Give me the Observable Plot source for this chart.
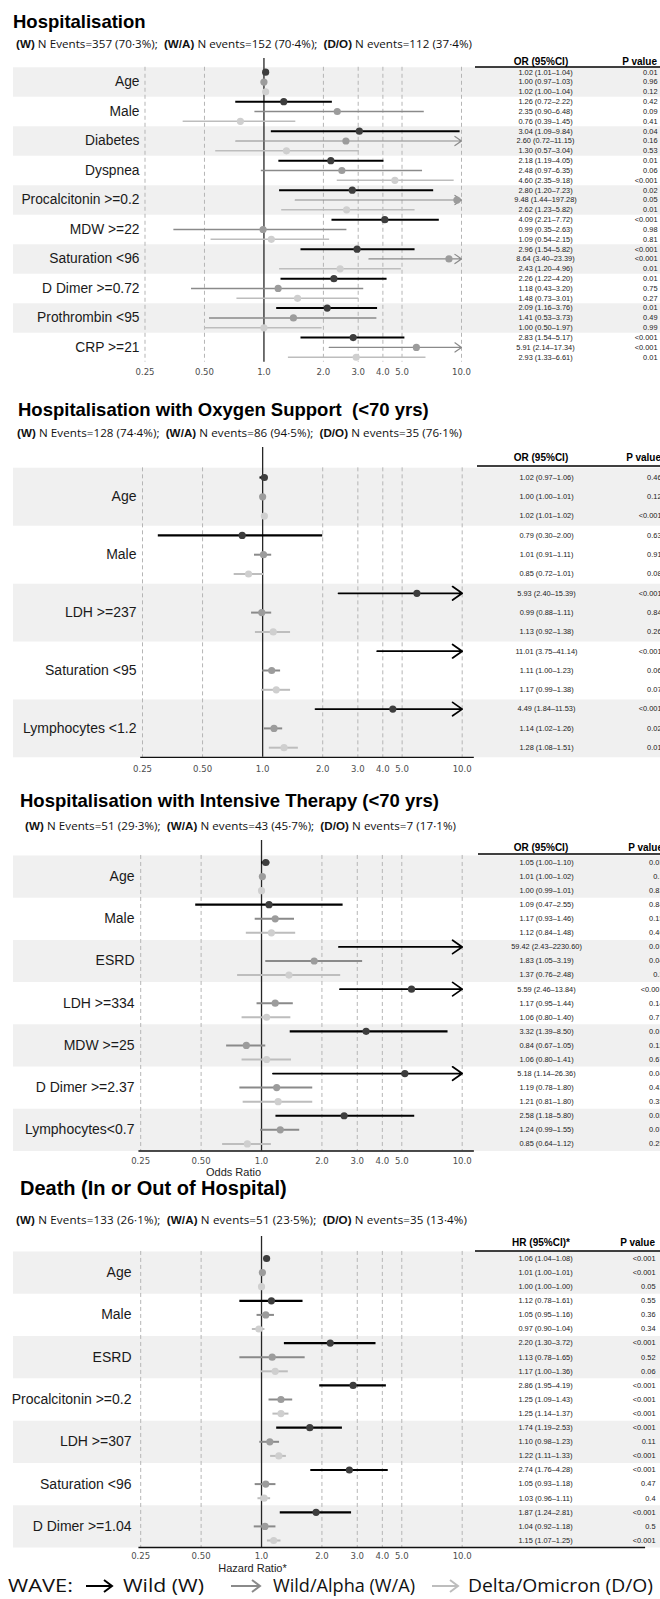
<!DOCTYPE html>
<html><head><meta charset="utf-8">
<script src="https://cdn.jsdelivr.net/npm/d3@7"></script>
<script src="https://cdn.jsdelivr.net/npm/@observablehq/plot@0.6"></script>
<style>
body{margin:0;background:#fff;}
#wrap{position:relative;width:660px;height:1599px;overflow:hidden;background:#fff;}
#wrap > svg{position:absolute;left:0;}
</style></head><body><div id="wrap"></div>
<script>
// ---------------- DATA ----------------
const WAVES = ["W","W/A","D/O"];
const xTicks = [0.25,0.5,1,2,3,4,5,10];
const xTickLabels = ["0.25","0.50","1.0","2.0","3.0","4.0","5.0","10.0"];

// Panel 1: Hospitalisation
const p1Labels = ["Age","Male","Diabetes","Dyspnea","Procalcitonin >=0.2","MDW >=22","Saturation <96","D Dimer >=0.72","Prothrombin <95","CRP >=21"];
const p1OrW  = [1.02,1.26,3.04,2.18,2.80,4.09,2.96,2.26,2.09,2.83];
const p1LoW  = [1.01,0.72,1.09,1.19,1.20,2.21,1.54,1.22,1.16,1.54];
const p1HiW  = [1.04,2.22,9.84,4.05,7.23,7.72,5.82,4.20,3.76,5.17];
const p1PW   = ["0.01","0.42","0.04","0.01","0.02","<0.001","<0.001","0.01","0.01","<0.001"];
const p1OrWA = [1.00,2.35,2.60,2.48,9.48,0.99,8.64,1.18,1.41,5.91];
const p1LoWA = [0.97,0.90,0.72,0.97,1.44,0.35,3.40,0.43,0.53,2.14];
const p1HiWA = [1.03,6.48,11.15,6.35,197.28,2.63,23.39,3.20,3.73,17.34];
const p1PWA  = ["0.96","0.09","0.16","0.06","0.05","0.98","<0.001","0.75","0.49","<0.001"];
const p1OrDO = [1.02,0.76,1.30,4.60,2.62,1.09,2.43,1.48,1.00,2.93];
const p1LoDO = [1.00,0.39,0.57,2.35,1.23,0.54,1.20,0.73,0.50,1.33];
const p1HiDO = [1.04,1.45,3.04,9.18,5.82,2.15,4.96,3.01,1.97,6.61];
const p1PDO  = ["0.12","0.41","0.53","<0.001","0.01","0.81","0.01","0.27","0.99","0.01"];
const p1Events = [357,152,112];
const p1Pct = ["70·3","70·4","37·4"];

// Panel 2: Hospitalisation with Oxygen Support (<70 yrs)
const p2Labels = ["Age","Male","LDH >=237","Saturation <95","Lymphocytes <1.2"];
const p2OrW  = [1.02,0.79,5.93,11.01,4.49];
const p2LoW  = [0.97,0.30,2.40,3.75,1.84];
const p2HiW  = [1.06,2.00,15.39,41.14,11.53];
const p2PW   = ["0.46","0.63","<0.001","<0.001","<0.001"];
const p2OrWA = [1.00,1.01,0.99,1.11,1.14];
const p2LoWA = [1.00,0.91,0.88,1.00,1.02];
const p2HiWA = [1.01,1.11,1.11,1.23,1.26];
const p2PWA  = ["0.12","0.91","0.84","0.06","0.02"];
const p2OrDO = [1.02,0.85,1.13,1.17,1.28];
const p2LoDO = [1.01,0.72,0.92,0.99,1.08];
const p2HiDO = [1.02,1.01,1.38,1.38,1.51];
const p2PDO  = ["<0.001","0.08","0.26","0.07","0.01"];
const p2Events = [128,86,35];
const p2Pct = ["74·4","94·5","76·1"];

// Panel 3: Hospitalisation with Intensive Therapy (<70 yrs)
const p3Labels = ["Age","Male","ESRD","LDH >=334","MDW >=25","D Dimer >=2.37","Lymphocytes<0.7"];
const p3OrW  = [1.05,1.09,59.42,5.59,3.32,5.18,2.58];
const p3LoW  = [1.00,0.47,2.43,2.46,1.39,1.14,1.18];
const p3HiW  = [1.10,2.55,2230.60,13.84,8.50,26.36,5.80];
const p3PW   = ["0.03","0.84","0.01","<0.001","0.01","0.04","0.02"];
const p3OrWA = [1.01,1.17,1.83,1.17,0.84,1.19,1.24];
const p3LoWA = [1.00,0.93,1.05,0.95,0.67,0.78,0.99];
const p3HiWA = [1.02,1.46,3.19,1.44,1.05,1.80,1.55];
const p3PWA  = ["0.1","0.15","0.04","0.14","0.12","0.42","0.07"];
const p3OrDO = [1.00,1.12,1.37,1.06,1.06,1.21,0.85];
const p3LoDO = [0.99,0.84,0.76,0.80,0.80,0.81,0.64];
const p3HiDO = [1.01,1.48,2.48,1.40,1.41,1.80,1.12];
const p3PDO  = ["0.83","0.46","0.3","0.71","0.67","0.35","0.25"];
const p3Events = [51,43,7];
const p3Pct = ["29·3","45·7","17·1"];

// Panel 4: Death (In or Out of Hospital)
const p4Labels = ["Age","Male","ESRD","Procalcitonin >=0.2","LDH >=307","Saturation <96","D Dimer >=1.04"];
const p4OrW  = [1.06,1.12,2.20,2.86,1.74,2.74,1.87];
const p4LoW  = [1.04,0.78,1.30,1.95,1.19,1.76,1.24];
const p4HiW  = [1.08,1.61,3.72,4.19,2.53,4.28,2.81];
const p4PW   = ["<0.001","0.55","<0.001","<0.001","<0.001","<0.001","<0.001"];
const p4OrWA = [1.01,1.05,1.13,1.25,1.10,1.05,1.04];
const p4LoWA = [1.00,0.95,0.78,1.09,0.98,0.93,0.92];
const p4HiWA = [1.01,1.16,1.65,1.43,1.23,1.18,1.18];
const p4PWA  = ["<0.001","0.36","0.52","<0.001","0.11","0.47","0.5"];
const p4OrDO = [1.00,0.97,1.17,1.25,1.22,1.03,1.15];
const p4LoDO = [1.00,0.90,1.00,1.14,1.11,0.96,1.07];
const p4HiDO = [1.00,1.04,1.36,1.37,1.33,1.11,1.25];
const p4PDO  = ["0.05","0.34","0.06","<0.001","<0.001","0.4","<0.001"];
const p4Events = [133,51,35];
const p4Pct = ["26·1","23·5","13·4"];

// ---------------- STYLE / LAYOUT ----------------
const lineColor = ["#000000","#8a8a8a","#bdbdbd"];
const dotColor  = ["#3d3d3d","#9c9c9c","#cfcfcf"];
const STRIPE = "#f0f0f0";

const panels = [
  {title:"Hospitalisation", tsize:18.5, tx:13, ty:28, sx:16, sy:48, slen:456, head:"OR (95%CI)", hy:64.5, uly:67, ulx:475,
   labels:p1Labels, series:[[p1OrW,p1LoW,p1HiW,p1PW],[p1OrWA,p1LoWA,p1HiWA,p1PWA],[p1OrDO,p1LoDO,p1HiDO,p1PDO]],
   events:p1Events, pct:p1Pct,
   top:50, height:340, row0:71.7, sp:9.83, oneTop:58, xr:[144.5,461], labelRight:139, labelSize:13.8,
   ciX:545, pRight:657, lw:[2,1.5,1.5], r:3.6, axisX:null, tickDy:13, axisTitle:null},
  {title:"Hospitalisation with Oxygen Support  (<70 yrs)", tsize:18.5, tx:18, ty:416, sx:17, sy:437, slen:445, head:"OR (95%CI)", hy:461, uly:466, ulx:477,
   labels:p2Labels, series:[[p2OrW,p2LoW,p2HiW,p2PW],[p2OrWA,p2LoWA,p2HiWA,p2PWA],[p2OrDO,p2LoDO,p2HiDO,p2PDO]],
   events:p2Events, pct:p2Pct,
   top:440, height:345, row0:477, sp:19.3, oneTop:447, xr:[142,461.7], labelRight:136, labelSize:14,
   ciX:546, pRight:661, lw:[2.2,2,2], r:3.6, axisX:[0.245,11.5], tickDy:15, axisTitle:null},
  {title:"Hospitalisation with Intensive Therapy (<70 yrs)", tsize:18.5, tx:20, ty:807, sx:25, sy:830, slen:431, head:"OR (95%CI)", hy:851, uly:854, ulx:478,
   labels:p3Labels, series:[[p3OrW,p3LoW,p3HiW,p3PW],[p3OrWA,p3LoWA,p3HiWA,p3PWA],[p3OrDO,p3LoDO,p3HiDO,p3PDO]],
   events:p3Events, pct:p3Pct,
   top:835, height:350, row0:862, sp:14.07, oneTop:840, xr:[140.2,461.7], labelRight:134, labelSize:14,
   ciX:546, pRight:663, lw:[2.2,2,2], r:3.6, axisX:[0.245,11.5], tickDy:13, axisTitle:{text:"Odds Ratio", cx:233, dy:25}},
  {title:"Death (In or Out of Hospital)", tsize:20, tx:20, ty:1195, sx:16, sy:1224, slen:451, head:"HR (95%CI)*", hy:1246, uly:1251, ulx:475,
   labels:p4Labels, series:[[p4OrW,p4LoW,p4HiW,p4PW],[p4OrWA,p4LoWA,p4HiWA,p4PWA],[p4OrDO,p4LoDO,p4HiDO,p4PDO]],
   events:p4Events, pct:p4Pct,
   top:1228, height:350, row0:1258, sp:14.1, oneTop:1236, xr:[140.2,461.7], labelRight:131, labelSize:14,
   ciX:545, pRight:655, lw:[2.2,2,2], r:3.6, axisX:[0.245,82], tickDy:11, axisTitle:{text:"Hazard Ratio*", cx:252, dy:24.5}}
];

const wrap = document.getElementById("wrap");

function buildRows(labels, series) {
  const rows = [];
  labels.forEach((lab, g) => series.forEach((s, w) => {
    rows.push({i: g*3 + w, g, w, or: s[0][g], lo: s[1][g], hi: s[2][g], p: s[3][g],
      ci: `${s[0][g].toFixed(2)} (${s[1][g].toFixed(2)}–${s[2][g].toFixed(2)})`});
  }));
  return rows;
}

panels.forEach(cfg => {
  const rows = buildRows(cfg.labels, cfg.series);
  const groups = cfg.labels.map((label, g) => ({label, g}));
  const n = rows.length;
  const rowTop = cfg.row0 - cfg.sp/2;
  const rowBottom = cfg.row0 + (n-1)*cfg.sp + cfg.sp/2;
  const mt = rowTop - cfg.top;
  const mb = cfg.top + cfg.height - rowBottom;
  const ML = 13;
  const marks = [
    Plot.ruleY(groups.filter(d => d.g % 2 === 0), {y: d => d.g*3 + 1, stroke: STRIPE, strokeWidth: cfg.sp*3}),
    Plot.ruleX(xTicks.filter(t => t !== 1), {stroke: "#b5b5b5", strokeDasharray: "4,3", strokeWidth: 1}),
    Plot.ruleX([1], {y1: -0.5 - (rowTop - cfg.oneTop)/cfg.sp, y2: n - 0.5, stroke: "#262626", strokeWidth: 1.3})
  ];
  if (cfg.axisX) marks.push(Plot.ruleY([n - 0.5], {x1: cfg.axisX[0], x2: cfg.axisX[1], stroke: "#111", strokeWidth: 1.4}));
  WAVES.forEach((wv, w) => {
    const rs = rows.filter(d => d.w === w);
    marks.push(Plot.ruleY(rs.filter(d => d.hi <= 10), {y: "i", x1: "lo", x2: "hi", stroke: lineColor[w], strokeWidth: cfg.lw[w]}));
    marks.push(Plot.arrow(rs.filter(d => d.hi > 10), {x1: "lo", x2: () => 10, y1: "i", y2: "i", stroke: lineColor[w], strokeWidth: cfg.lw[w] * 0.8, headLength: 10, headAngle: 70}));
  });
  WAVES.forEach((wv, w) => {
    marks.push(Plot.dot(rows.filter(d => d.w === w && d.or <= 10), {x: "or", y: "i", r: cfg.r, fill: dotColor[w]}));
  });
  marks.push(
    Plot.text(groups, {y: d => d.g*3 + 1, text: "label", frameAnchor: "left", dx: cfg.labelRight - ML, textAnchor: "end", fontSize: cfg.labelSize, fill: "#1a1a1a"}),
    Plot.text(rows, {y: "i", text: "ci", frameAnchor: "left", dx: cfg.ciX - ML, textAnchor: "middle", fontSize: 7.4, fill: "#222"}),
    Plot.text(rows, {y: "i", text: "p", frameAnchor: "right", dx: cfg.pRight - 660, textAnchor: "end", fontSize: 7.4, fill: "#222"}),
    Plot.text(xTicks, {x: d => d, text: (d, i) => xTickLabels[i], frameAnchor: "bottom", lineAnchor: "top", dy: cfg.tickDy - 0.71*9.5, fontSize: 9.5, fill: "#4d4d4d", fontFamily: "DejaVu Sans Condensed, Liberation Sans Narrow, DejaVu Sans, sans-serif"})
  );
  if (cfg.axisTitle) marks.push(Plot.text([cfg.axisTitle.text], {text: d => d, frameAnchor: "bottom-left", lineAnchor: "top", textAnchor: "middle", dx: cfg.axisTitle.cx - ML, dy: cfg.axisTitle.dy - 0.71*11, fontSize: 11, fill: "#222"}));

  const svg = Plot.plot({
    width: 660, height: cfg.height,
    marginLeft: ML, marginRight: 0, marginTop: mt, marginBottom: mb,
    x: {type: "log", domain: [0.25, 10], range: cfg.xr, axis: null},
    y: {domain: [-0.5, n - 0.5], range: [mt, cfg.height - mb], axis: null},
    style: {fontFamily: "Liberation Sans, Arial, sans-serif", fontSize: "10px", background: "transparent", overflow: "visible"},
    marks
  });
  svg.style.position = "absolute";
  svg.style.top = cfg.top + "px";
  svg.style.left = "0px";
  wrap.appendChild(svg);
});

// ---------------- OVERLAY TEXT (titles, subtitles, headers, legend) ----------------
const ov = d3.select(wrap).append("svg").attr("width", 660).attr("height", 1599)
  .style("position", "absolute").style("top", "0px").style("left", "0px");

panels.forEach(cfg => {
  ov.append("text").attr("x", cfg.tx).attr("y", cfg.ty).text(cfg.title)
    .attr("font-family", "Liberation Sans, Arial, sans-serif").attr("font-weight", "bold").attr("font-size", cfg.tsize)
    .style("white-space", "pre").attr("fill", "#000");
  const t = ov.append("text").attr("x", cfg.sx).attr("y", cfg.sy).attr("font-size", 11.6)
    .attr("textLength", cfg.slen).attr("lengthAdjust", "spacing").style("white-space", "pre").attr("fill", "#111");
  WAVES.forEach((wv, w) => {
    t.append("tspan").text(`(${wv})`).attr("font-family", "Liberation Sans, Arial, sans-serif").attr("font-weight", "bold");
    t.append("tspan").text(` N ${w === 0 ? "Events" : "events"}=${cfg.events[w]} (${cfg.pct[w]}%)${w < 2 ? ";  " : ""}`)
      .attr("font-family", "Open Sans, Noto Sans, sans-serif");
  });
  ov.append("text").attr("x", 541).attr("y", cfg.hy).attr("text-anchor", "middle").text(cfg.head)
    .attr("font-family", "Liberation Sans, Arial, sans-serif").attr("font-weight", "bold").attr("font-size", 10);
  ov.append("text").attr("x", cfg.pRight).attr("y", cfg.hy).attr("text-anchor", "end").text("P value")
    .attr("font-family", "Liberation Sans, Arial, sans-serif").attr("font-weight", "bold").attr("font-size", 10);
  ov.append("line").attr("x1", cfg.ulx).attr("x2", 660).attr("y1", cfg.uly).attr("y2", cfg.uly)
    .attr("stroke", "#000").attr("stroke-width", 1.5);
});

// Legend
const legendNames = ["Wild (W)", "Wild/Alpha (W/A)", "Delta/Omicron (D/O)"];
const legY = 1592;
const lf = "Open Sans, Noto Sans, sans-serif";
ov.append("text").attr("x", 8).attr("y", legY).text("WAVE:").attr("font-family", lf).attr("font-size", 19)
  .attr("textLength", 65).attr("lengthAdjust", "spacingAndGlyphs").attr("fill", "#111");
const legItems = [
  {a0: 86, a1: 112, tx: 123, tl: 81},
  {a0: 231, a1: 260, tx: 273, tl: 142},
  {a0: 432, a1: 458, tx: 468, tl: 185}
];
legItems.forEach((it, w) => {
  const cy = legY - 6;
  ov.append("line").attr("x1", it.a0).attr("x2", it.a1).attr("y1", cy).attr("y2", cy)
    .attr("stroke", lineColor[w]).attr("stroke-width", 2);
  ov.append("polyline").attr("points", `${it.a1-8},${cy-6} ${it.a1},${cy} ${it.a1-8},${cy+6}`)
    .attr("fill", "none").attr("stroke", lineColor[w]).attr("stroke-width", 2);
  ov.append("text").attr("x", it.tx).attr("y", legY).text(legendNames[w]).attr("font-family", lf).attr("font-size", 19)
    .attr("textLength", it.tl).attr("lengthAdjust", "spacingAndGlyphs").attr("fill", "#111");
});
</script></body></html>
